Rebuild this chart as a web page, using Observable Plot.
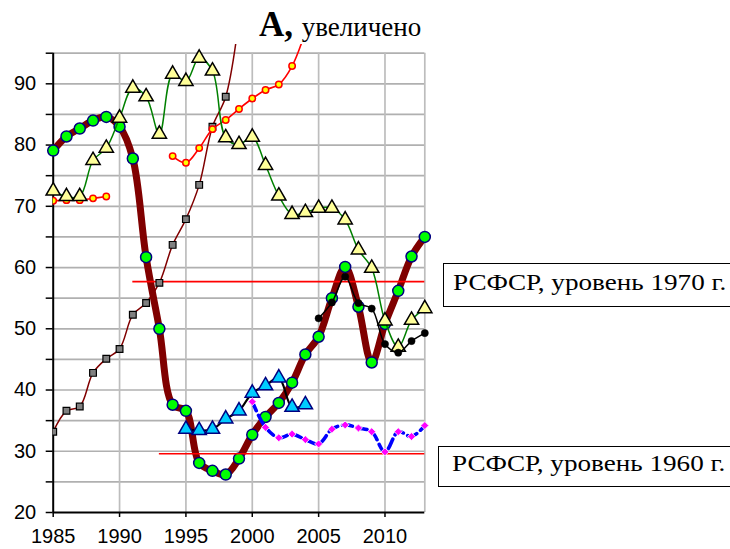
<!DOCTYPE html>
<html>
<head>
<meta charset="utf-8">
<script src="https://cdn.jsdelivr.net/npm/d3@7"></script>
<script src="https://cdn.jsdelivr.net/npm/@observablehq/plot@0.6"></script>
<style>
  body { margin: 0; background: #fff; }
  #wrap { position: relative; width: 730px; height: 549px; overflow: hidden; background: #fff; }
  #wrap svg { position: absolute; left: 0; top: 0; }
  .title { position: absolute; left: 259px; top: 7px; white-space: nowrap; font-family: "Liberation Serif", "Times New Roman", serif; font-size: 35px; line-height: 1; color: #000; }
  .title b { font-size: 35px; }
  .title span { font-size: 27px; }
  .box { position: absolute; border: 1.5px solid #000; background: #fff; width: 330px; box-sizing: border-box; }
  .boxtext { position: absolute; white-space: nowrap; font-family: "Liberation Serif", "Times New Roman", serif; font-size: 23px; line-height: 1; color: #000; transform-origin: left top; transform: scaleX(1.18); }
</style>
</head>
<body>
<div id="wrap">
  <div class="title"><b>A,</b> <span>увеличено</span></div>
  <div class="box" style="left:443px; top:263px; height:44px;"></div>
  <div class="boxtext" style="left:453px; top:271px;">РСФСР, уровень 1970 г.</div>
  <div class="box" style="left:438px; top:446px; height:41px;"></div>
  <div class="boxtext" style="left:452px; top:452px;">РСФСР, уровень 1960 г.</div>
</div>
<script>
// ---- data ----
const mainYears = d3.range(1985, 2014);
const mainVals = [79.1, 81.4, 82.7, 84.0, 84.6, 83.0, 77.8, 61.7, 50.0, 37.6, 36.6, 28.1, 26.8, 26.2, 28.8,
                  32.7, 35.6, 37.9, 41.2, 45.8, 48.7, 55.0, 60.1, 53.6, 44.5, 50.8, 56.2, 61.8, 65.0];

const triYears = d3.range(1985, 2014);
const triVals = [72.5, 71.6, 71.6, 77.5, 79.5, 84.4, 89.3, 87.9, 81.8, 91.6, 90.4, 94.2, 92.1, 81.2, 80.1,
                 81.3, 76.7, 71.7, 68.7, 69.0, 69.7, 69.7, 67.8, 62.9, 59.9, 51.3, 47.0, 51.4, 53.3];

const sqYears = d3.range(1985, 2000);
const sqVals = [33.2, 36.6, 37.3, 42.8, 45.1, 46.7, 52.3, 54.2, 57.5, 63.7, 67.9, 73.5, 83.0, 87.9, 100.5];

const redAYears = [1985, 1986, 1987, 1988, 1989];
const redAVals = [70.9, 71.0, 71.0, 71.3, 71.6];
const redBYears = d3.range(1994, 2005);
const redBVals = [78.2, 77.1, 79.5, 82.6, 84.1, 85.9, 87.6, 89.0, 89.9, 92.9, 98.5];

const cyanYears = d3.range(1995, 2005);
const cyanVals = [33.6, 33.4, 33.6, 35.3, 36.6, 39.5, 40.7, 42.0, 37.2, 37.6];

const blackYears = d3.range(2005, 2014);
const blackVals = [51.7, 54.3, 58.5, 54.2, 53.3, 47.5, 46.1, 48.0, 49.3];

const magYears = d3.range(2000, 2014);
const magVals = [38.1, 33.9, 32.2, 32.8, 31.9, 31.2, 33.6, 34.3, 33.8, 33.2, 29.9, 33.2, 32.4, 34.2];

const levelNames = ["1970", "1960"];
const levelVals = [57.7, 29.6];
const levelStart = [1991, 1993];
const levelEnd = [2013, 2013];

// axis / grid ticks
const xFirst = 1985, xLast = 2013, yBottom = 20, yTop = 95, yClipTop = 96.42;
const xTicks = [1985, 1990, 1995, 2000, 2005, 2010];
const xGrid = [1990, 1995, 2000, 2005, 2010, 2013];
const yTicks = d3.range(20, 96, 5);
const yGrid = d3.range(25, 96, 5);

const toRows = (xs, vs) => xs.map((x, i) => ({x, y: vs[i]}));
const main = toRows(mainYears, mainVals);
const tri = toRows(triYears, triVals);
const sq = toRows(sqYears, sqVals);
const redA = toRows(redAYears, redAVals);
const redB = toRows(redBYears, redBVals);
const cyan = toRows(cyanYears, cyanVals);
const blk = toRows(blackYears, blackVals);
const mag = toRows(magYears, magVals);
const levels = levelNames.map((n, i) => ({n, y: levelVals[i], x1: levelStart[i], x2: levelEnd[i]}));

const curve = "catmull-rom";
const axisFont = "'Liberation Sans', Arial, sans-serif";

const chart = Plot.plot({
  width: 730,
  height: 549,
  marginLeft: 52.7,
  marginRight: 305.7,
  marginTop: 44,
  marginBottom: 37,
  x: {domain: [xFirst, xLast]},
  y: {domain: [yBottom, yClipTop]},
  style: {fontFamily: axisFont, fontSize: "19px", color: "#000", background: "transparent", overflow: "visible"},
  marks: [
    // grid
    Plot.ruleY(yGrid, {x1: xFirst, x2: xLast, stroke: "#b0b0b0", strokeWidth: 1.7}),
    Plot.ruleX(xGrid, {y1: yBottom, y2: yTop, stroke: "#bdbdbd", strokeWidth: 1.7}),
    // axes
    Plot.ruleX([xFirst], {y1: yBottom, y2: yTop, stroke: "#000", strokeWidth: 2}),
    Plot.ruleY([yBottom], {x1: xFirst, x2: xLast, stroke: "#000", strokeWidth: 2}),
    Plot.axisY({ticks: yTicks, tickSize: 7, tickPadding: 10, tickFormat: d => d % 10 === 0 ? String(d) : "", label: null, stroke: "#000", strokeWidth: 1.5}),
    Plot.axisX({ticks: xTicks, tickSize: 5, tickPadding: 11, tickFormat: d => String(d), label: null, stroke: "#000", strokeWidth: 1.5}),
    // main thick series
    Plot.line(main, {x: "x", y: "y", stroke: "#800000", strokeWidth: 7, curve, strokeLinejoin: "round"}),
    Plot.dot(main, {x: "x", y: "y", r: 5.5, fill: "#00ff00", stroke: "#000080", strokeWidth: 1.5}),
    // RSFSR levels
    Plot.ruleY(levels, {y: "y", x1: "x1", x2: "x2", stroke: "#ff0000", strokeWidth: 1.6}),
    // grey squares
    Plot.line(sq, {x: "x", y: "y", stroke: "#800000", strokeWidth: 1.5, curve, clip: true}),
    Plot.dot(sq, {x: "x", y: "y", symbol: "square", r: 3.8, fill: "#808080", stroke: "#000", strokeWidth: 1.2, clip: true}),
    // red small circles
    Plot.line(redA, {x: "x", y: "y", stroke: "#ff0000", strokeWidth: 1.6, curve, clip: true}),
    Plot.line(redB, {x: "x", y: "y", stroke: "#ff0000", strokeWidth: 1.6, curve, clip: true}),
    Plot.dot(redA.concat(redB), {x: "x", y: "y", r: 3.2, fill: "#ffff00", stroke: "#ff0000", strokeWidth: 1.5, clip: true}),
    // yellow triangles
    Plot.line(tri, {x: "x", y: "y", stroke: "#008000", strokeWidth: 1.5, curve}),
    Plot.dot(tri, {x: "x", y: "y", symbol: "triangle", r: 5.3, fill: "#ffff99", stroke: "#000", strokeWidth: 1.5}),
    // cyan triangles
    Plot.line(cyan, {x: "x", y: "y", stroke: "#000", strokeWidth: 2.2, curve}),
    Plot.dot(cyan, {x: "x", y: "y", symbol: "triangle", r: 5.3, fill: "#00ccff", stroke: "#000080", strokeWidth: 1.5}),
    // black dots
    Plot.line(blk, {x: "x", y: "y", stroke: "#000", strokeWidth: 1.5, curve}),
    Plot.dot(blk, {x: "x", y: "y", r: 3.6, fill: "#000", stroke: "#000", strokeWidth: 0.5}),
    // magenta diamonds with blue dashed line
    Plot.line(mag, {x: "x", y: "y", stroke: "#0000ff", strokeWidth: 3.6, strokeDasharray: "10,5", curve}),
    Plot.dot(mag, {x: "x", y: "y", symbol: "diamond2", r: 3.6, fill: "#ff00ff", stroke: "#fff", strokeWidth: 0.8})
  ]
});
// enlarge the tick labels to the reference's size
d3.select(chart).selectAll("g[aria-label='x-axis tick label'], g[aria-label='y-axis tick label']")
  .style("font-size", "20px").style("font-family", axisFont);
d3.select(chart).selectAll("g[aria-label='x-axis tick label'] text, g[aria-label='y-axis tick label'] text")
  .style("font-size", "20px");
document.getElementById("wrap").prepend(chart);
</script>
</body>
</html>
